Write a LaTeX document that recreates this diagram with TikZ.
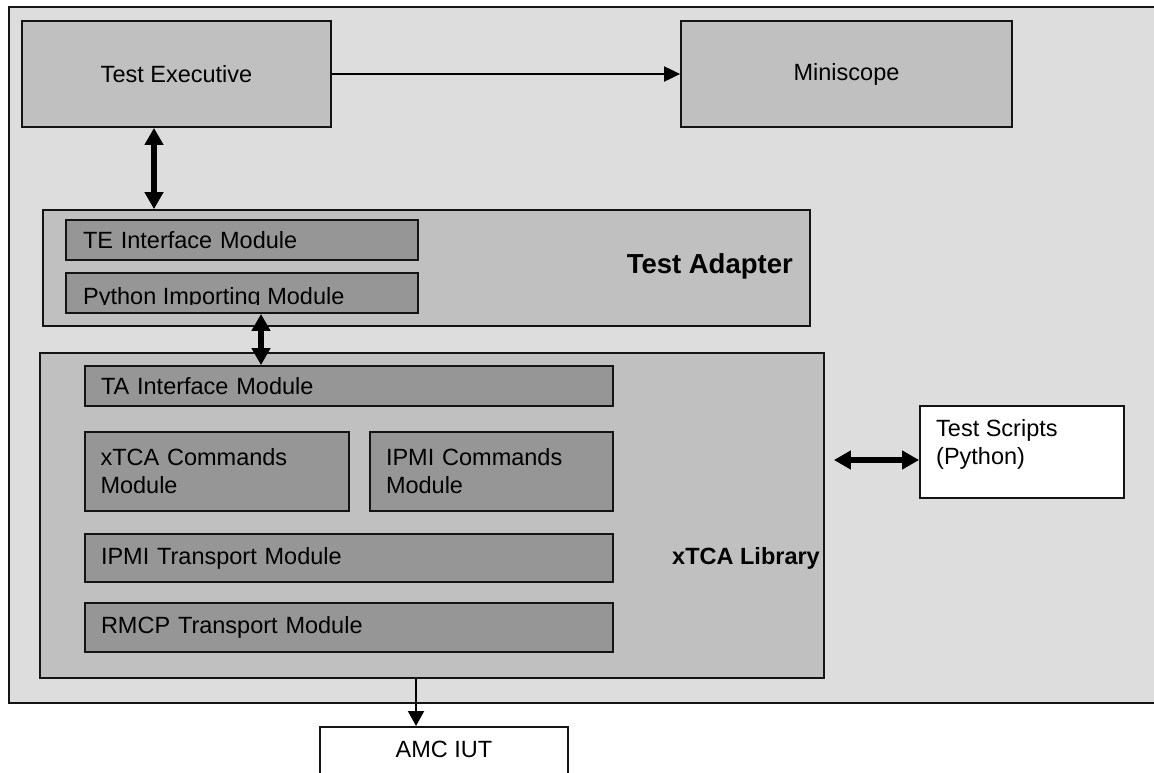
\documentclass[tikz,border=0pt]{standalone}
\usepackage{fontspec}
\setmainfont{Liberation Sans}
\usetikzlibrary{arrows.meta}
\definecolor{bgout}{RGB}{221,221,221}
\definecolor{boxgray}{RGB}{192,192,192}
\definecolor{modgray}{RGB}{150,150,150}
\definecolor{edge}{RGB}{20,20,20}
\begin{document}
\begin{tikzpicture}[x=1pt,y=-1pt,
  frame/.style={draw=edge, line width=1.8pt, fill=bgout, inner sep=0pt},
  box/.style={draw=edge, line width=1.8pt, fill=boxgray, inner sep=0pt},
  mod/.style={draw=edge, line width=1.8pt, fill=modgray, inner sep=0pt, align=left},
  white box/.style={draw=edge, line width=1.8pt, fill=white, inner sep=0pt},
  txt/.style={font=\fontsize{23.5}{28}\selectfont},
  thin arrow/.style={line width=2pt, draw=black, -{Triangle[length=16pt,width=15pt]}},
  big arrow/.style={line width=5.5pt, draw=black, {Triangle[length=17pt,width=18pt]}-{Triangle[length=17pt,width=18pt]}},
]
\useasboundingbox (0,0) rectangle (1154,772);
\clip (0,0) rectangle (1154,772);
\fill[white] (0,0) rectangle (1154,772);

% outer frame
\node[frame, minimum width=1170pt, minimum height=696pt, anchor=north west] (outer) at (8,6) {};

% top row
\node[box, txt, minimum width=309pt, minimum height=106pt] (te) at (176.5,74) {Test Executive};
\node[box, txt, minimum width=331pt, minimum height=106pt] (ms) at (846.5,74) {Miniscope};

% test adapter
\node[box, minimum width=767pt, minimum height=116pt] (ta) at (426.5,268) {};
\node[font=\fontsize{27.5}{32}\selectfont\bfseries, anchor=base east, inner sep=0pt] (ta-label) at (793,273) {Test Adapter};
\node[mod, txt, minimum width=352pt, minimum height=40pt, text width=318pt] (teim) at (242,240) {TE Interface Module};
\node[mod, minimum width=352pt, minimum height=40pt] (pim) at (242,293) {};
\begin{scope}
  \clip (66,273) rectangle (418,304.5);
  \node[txt, anchor=base west, inner sep=0pt] (pim-label) at (83,304) {Python Importing Module};
\end{scope}

% xTCA library
\node[box, minimum width=784pt, minimum height=325pt] (xl) at (432,515.5) {};
\node[font=\fontsize{23.5}{28}\selectfont\bfseries, anchor=base east, inner sep=0pt] (xl-label) at (820,564) {xTCA Library};
\node[mod, txt, minimum width=528pt, minimum height=40pt, text width=496pt] (taim) at (349,386) {TA Interface Module};
\node[mod, txt, minimum width=264pt, minimum height=79pt, text width=233pt] (xcm) at (217,471.5) {xTCA Commands\\Module};
\node[mod, txt, minimum width=243pt, minimum height=79pt, text width=211pt] (icm) at (491.5,471.5) {IPMI Commands\\Module};
\node[mod, txt, minimum width=528pt, minimum height=48pt, text width=496pt] (itm) at (349,558) {IPMI Transport Module};
\node[mod, txt, minimum width=528pt, minimum height=49pt, text width=496pt] (rtm) at (349,627.5) {RMCP Transport Module};

% test scripts
\node[white box, minimum width=204pt, minimum height=92pt] (ts) at (1022,452) {};
\node[txt, anchor=north west, inner sep=0pt, align=left] (ts-label) at (936,419) {Test Scripts\\(Python)};

% AMC IUT
\node[white box, minimum width=248pt, minimum height=80pt, anchor=north] (amc) at (444,726) {};
\node[txt, anchor=base, inner sep=0pt] (amc-label) at (444,757) {AMC IUT};

% connectors
\coordinate (c1) at (154,0);
\coordinate (c2) at (261,0);
\coordinate (c3) at (0,460);
\coordinate (c4) at (416,0);
\draw[thin arrow] (te) -- (ms);
\draw[big arrow] (te.south -| c1) -- (ta.north -| c1);
\draw[big arrow] (pim.south -| c2) -- (taim.north -| c2);
\draw[big arrow, shorten <=9pt] (xl.east |- c3) -- (ts.west |- c3);
\draw[line width=2pt, draw=black, -{Triangle[length=15pt,width=16pt]}] (xl.south -| c4) -- (amc.north -| c4);
\end{tikzpicture}
\end{document}
